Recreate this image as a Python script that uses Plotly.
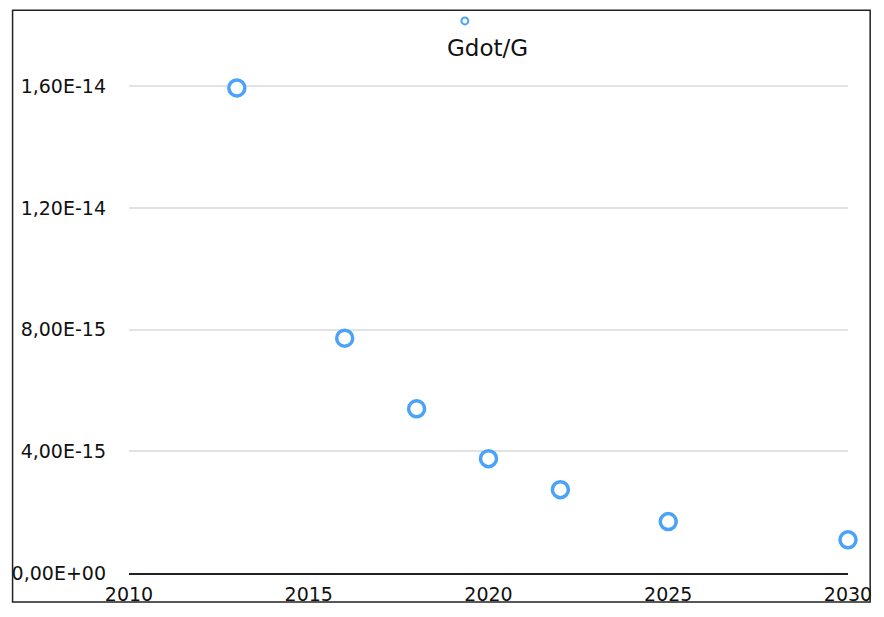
import plotly.graph_objects as go

years = [2013, 2016, 2018, 2020, 2022, 2025, 2030]
gdot_over_g = [1.595e-14, 7.72e-15, 5.40e-15, 3.76e-15, 2.74e-15, 1.69e-15, 1.09e-15]
series_name = "Gdot/G"

y_tick_vals = [0, 4e-15, 8e-15, 1.2e-14, 1.6e-14]
y_tick_text = ["0,00E+00", "4,00E-15", "8,00E-15", "1,20E-14", "1,60E-14"]
x_tick_vals = [2010, 2015, 2020, 2025, 2030]

BLUE = "#4aa3f8"
FONT = "DejaVu Sans"

W, H = 884, 617
L, R = 127, 884 - 857
T, B = 20, 617 - 583
pw, ph = W - L - R, H - T - B

def px(x):
    return (x - L) / pw

def py(y):
    return (H - B - y) / ph

fig = go.Figure()
fig.add_trace(go.Scatter(
    x=years, y=gdot_over_g, mode="markers", name=series_name,
    marker=dict(symbol="circle", size=16, color="white",
                line=dict(color=BLUE, width=3.5)),
    showlegend=False, cliponaxis=False, hoverinfo="skip",
))

fig.update_layout(
    width=W, height=H,
    margin=dict(l=L, r=R, t=T, b=B),
    paper_bgcolor="white", plot_bgcolor="white",
    font=dict(family=FONT, size=19, color="#111"),
    xaxis=dict(range=[2010, 2030], tickvals=x_tick_vals,
               showgrid=False, zeroline=False,
               showline=True, linecolor="#222", linewidth=1.5,
               ticks="", ticklabelstandoff=4,
               tickfont=dict(family=FONT, size=19, color="#111")),
    yaxis=dict(range=[0, (583 - 20) / 30.96 * 1e-15],
               tickvals=y_tick_vals, ticktext=y_tick_text,
               showgrid=True, gridcolor="#e2e2e2", gridwidth=2,
               zeroline=False, showline=False, ticks="",
               ticklabelstandoff=22,
               tickfont=dict(family=FONT, size=19, color="#111")),
    shapes=[
        dict(type="rect", xref="paper", yref="paper",
             x0=px(8.8), x1=px(879.5), y0=py(612.5), y1=py(10),
             line=dict(color="#222", width=1.5), layer="above"),
        dict(type="circle", xref="paper", yref="paper",
             x0=px(464.5), x1=px(471.5), y0=py(24.5), y1=py(17.5),
             line=dict(color=BLUE, width=2), fillcolor="white"),
    ],
    annotations=[
        dict(text=series_name, xref="paper", yref="paper",
             x=px(491), y=py(49), showarrow=False,
             xanchor="center", yanchor="middle",
             font=dict(family=FONT, size=23, color="#111")),
    ],
)

fig.write_html(
    "out.html",
    config={"displayModeBar": False, "staticPlot": True},
    post_script="document.body.style.margin='0';document.body.style.overflow='hidden';",
)
